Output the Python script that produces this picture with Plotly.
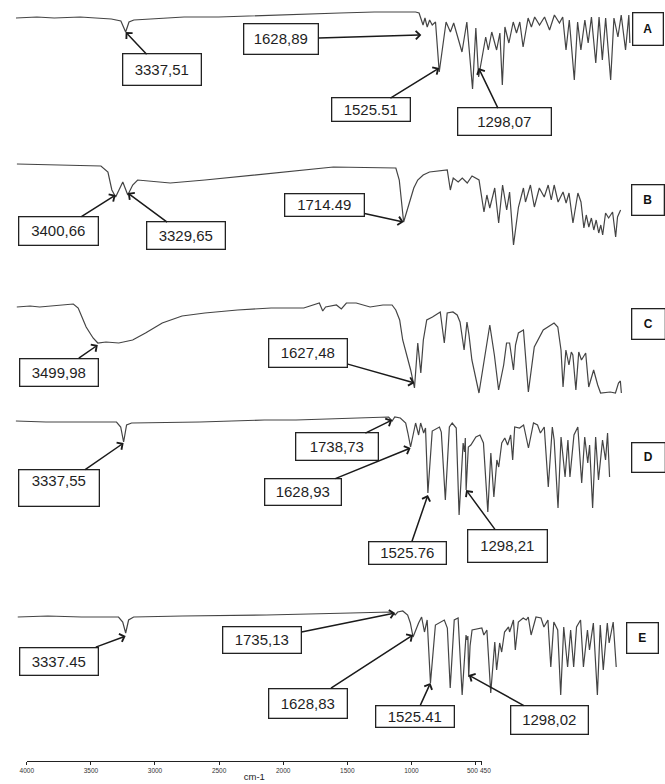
import plotly.graph_objects as go

# ---------------- data (wavenumber cm-1, transmittance %) ----------------
A_WN = [3971, 3850, 3750, 3600, 3420, 3365, 3337.5, 3318, 3290, 3000,
        2800, 2500, 2300, 2100, 1900, 1700, 1662, 1642, 1619, 1608,
        1595, 1581, 1566, 1547, 1525.5, 1486, 1461, 1442, 1394, 1366,
        1333, 1314, 1298, 1257, 1242, 1222, 1194, 1175, 1161, 1146,
        1123, 1098, 1079, 1060, 1041, 1012, 993, 974, 946, 917,
        888, 860, 831, 812, 793, 774, 745, 726, 707, 684,
        665, 646, 621, 602, 583, 564, 535, 516, 493, 474,
        449, 430, 424]
A_T = [87, 88, 87, 88, 86, 84, 73, 83, 85, 88,
       88, 90, 91, 92, 93, 93, 93, 92, 80, 87,
       78, 85, 80, 83, 33, 83, 73, 82, 53, 83,
       16, 77, 28, 68, 55, 73, 55, 72, 20, 78,
       62, 83, 72, 83, 58, 87, 78, 88, 80, 88,
       75, 90, 82, 88, 55, 85, 25, 83, 55, 85,
       62, 88, 42, 88, 45, 87, 25, 87, 68, 90,
       55, 90, 62]

B_WN = [3979, 3700, 3487, 3446, 3423, 3400.7, 3359, 3329.7, 3301, 3272,
        3081, 2878, 2589, 2126, 1760, 1740, 1714.5, 1690, 1679, 1655,
        1632, 1600, 1563, 1459, 1441, 1424, 1395, 1371, 1342, 1314,
        1273, 1244, 1227, 1210, 1181, 1158, 1135, 1111, 1094, 1071,
        1042, 1013, 1001, 972, 949, 920, 891, 868, 850, 833,
        810, 781, 763, 746, 723, 694, 676, 659, 645, 630,
        615, 601, 587, 572, 560, 549, 532, 514, 491, 473,
        462, 444]
B_T = [96, 95, 94, 88, 70, 63, 78, 65, 75, 80,
       77, 80, 85, 93, 92, 80, 38, 52, 60, 72,
       80, 85, 88, 90, 70, 82, 78, 82, 77, 84,
       80, 48, 65, 52, 72, 37, 75, 50, 68, 15,
       53, 72, 58, 75, 53, 72, 63, 75, 60, 75,
       58, 68, 57, 67, 37, 67, 58, 32, 45, 33,
       42, 30, 40, 27, 35, 25, 47, 42, 48, 23,
       43, 50]

C_WN = [3979, 3900, 3844, 3760, 3700, 3645, 3616, 3569, 3528, 3500,
        3452, 3376, 3294, 3218, 3119, 3002, 2867, 2674, 2475, 2282,
        2190, 2170, 2153, 2089, 2060, 2030, 1972, 1890, 1814, 1760,
        1738, 1715, 1697, 1650, 1627.5, 1608, 1590, 1575, 1555, 1521,
        1475, 1451, 1434, 1400, 1375, 1358, 1334, 1317, 1305, 1288,
        1246, 1210, 1182, 1155, 1130, 1100, 1083, 1065, 1042, 1030,
        1013, 983, 954, 919, 866, 802, 780, 761, 749, 732,
        714, 700, 691, 673, 656, 640, 615, 597, 568, 544,
        527, 470, 439, 421, 410, 404]
C_T = [88, 89, 88, 89, 90, 91, 87, 68, 57, 52,
       53, 52, 55, 62, 72, 79, 82, 85, 87, 87,
       92, 84, 88, 90, 86, 92, 92, 88, 90, 90,
       85, 75, 55, 25, 7, 52, 22, 55, 75, 78,
       83, 52, 82, 83, 80, 73, 45, 73, 60, 35,
       2, 40, 70, 40, 5, 30, 52, 52, 25, 50,
       62, 65, 3, 48, 65, 72, 68, 45, 8, 45,
       30, 43, 40, 5, 43, 35, 42, 8, 25, 10,
       2, 3, 2, 12, 14, 2]

D_WN = [3979, 3800, 3600, 3380, 3355, 3337.6, 3320, 3290, 2883, 2500,
        2311, 2000, 1835, 1760, 1738.7, 1723, 1690, 1658, 1645, 1628.9,
        1599, 1581, 1569, 1551, 1540, 1525.8, 1500, 1481, 1457, 1446,
        1422, 1398, 1381, 1357, 1340, 1316, 1308, 1303, 1298.2, 1285,
        1270, 1240, 1216, 1195, 1169, 1151, 1133, 1115, 1104, 1086,
        1068, 1051, 1033, 1021, 1009, 980, 956, 927, 897, 873,
        856, 833, 809, 785, 774, 751, 733, 709, 692, 680,
        656, 633, 610, 592, 574, 563, 545, 527, 510, 486,
        468, 456, 444]
D_T = [94, 93, 93, 93, 88, 73, 90, 92, 93, 95,
       95, 97, 98, 98, 94, 98, 97, 92, 82, 68,
       92, 80, 92, 82, 87, 22, 84, 86, 88, 83,
       15, 88, 92, 87, 0, 72, 63, 77, 25, 68,
       70, 78, 80, 72, 3, 62, 18, 55, 48, 72,
       77, 70, 80, 55, 88, 87, 90, 67, 92, 90,
       82, 88, 28, 88, 75, 7, 78, 38, 75, 38,
       80, 88, 32, 78, 52, 70, 7, 78, 35, 75,
       55, 82, 38]

E_WN = [3979, 3800, 3600, 3380, 3355, 3337.5, 3320, 3290, 3000, 2500,
        2000, 1850, 1760, 1735.1, 1720, 1690, 1661, 1645, 1628.8, 1596,
        1578, 1561, 1545, 1525.4, 1496, 1443, 1425, 1408, 1384, 1361,
        1337, 1314, 1308, 1303, 1298, 1290, 1278, 1220, 1208, 1190,
        1167, 1143, 1132, 1114, 1102, 1085, 1061, 1055, 1032, 1021,
        1003, 974, 956, 944, 927, 898, 868, 851, 827, 810,
        792, 769, 751, 733, 710, 692, 674, 657, 633, 616,
        592, 580, 557, 533, 516, 498, 474, 463, 439, 421]
E_T = [91, 92, 91, 91, 86, 75, 88, 91, 92, 93,
       95, 96, 96, 93, 96, 97, 93, 85, 71, 85,
       91, 76, 88, 25, 83, 88, 80, 20, 88, 90,
       13, 73, 68, 72, 31, 62, 78, 80, 73, 78,
       15, 66, 38, 65, 56, 76, 81, 76, 88, 58,
       86, 90, 88, 91, 73, 91, 90, 81, 88, 41,
       86, 78, 13, 81, 41, 78, 41, 81, 88, 41,
       78, 58, 85, 13, 83, 38, 85, 65, 86, 41]

PANEL_NAMES = ["A", "B", "C", "D", "E"]

A_PEAKS = [3337.51, 1628.89, 1525.51, 1298.07]
A_LABELS = ["3337,51", "1628,89", "1525.51", "1298,07"]
B_PEAKS = [3400.66, 3329.65, 1714.49]
B_LABELS = ["3400,66", "3329,65", "1714.49"]
C_PEAKS = [3499.98, 1627.48]
C_LABELS = ["3499,98", "1627,48"]
D_PEAKS = [1738.73, 1628.93, 3337.55, 1525.76, 1298.21]
D_LABELS = ["1738,73", "1628,93", "3337,55", "1525.76", "1298,21"]
E_PEAKS = [1735.13, 3337.45, 1628.83, 1525.41, 1298.02]
E_LABELS = ["1735,13", "3337.45", "1628,83", "1525.41", "1298,02"]

AXIS_TICKS = [4000, 3500, 3000, 2500, 2000, 1500, 1000, 500, 450]
AXIS_TICKTEXT = ["4000", "3500", "3000", "2500", "2000", "1500", "1000", "500", "450"]

# ---------------- layout configuration ----------------
W, H = 665, 784
PANEL_TOP = [5, 160, 295, 415, 608]
PANEL_XRANGE = [(4023, 221), (4037, 184), (4037, 146), (4032, 114), (4043, 131)]
PANEL_BOX = [(648, 29, 30, 32), (648, 200, 32, 30), (648, 324, 33, 30),
             (648, 457, 33, 29), (642, 638, 31, 30)]

# per label: tip %T, box-centre offset (px), box size (px), vertical align
LABEL_STYLE = [
    [(73, 36, 38, 78, 31, "middle"), (70, -140, 4, 74, 30, "middle"),
     (37, -68, 42, 78, 23, "middle"), (37, 26, 54, 93, 27, "middle")],
    [(65, -57, 36, 79, 28, "middle"), (67, 58, 43, 78, 27, "middle"),
     (38, -79, -17, 79, 22, "middle")],
    [(50, -39, 27, 78, 27, "middle"), (12, -106, -30, 78, 28, "middle")],
    [(95, -55, 27, 82, 27, "middle"), (67, -108, 44, 76, 26, "middle"),
     (72, -65, 45, 80, 36, "top"), (20, -20, 58, 77, 22, "middle"),
     (25, 41, 56, 79, 32, "middle")],
    [(95, -133, 27, 78, 26, "middle"), (72, -67, 25, 78, 27, "middle"),
     (73, -105, 68, 78, 29, "middle"), (25, -15, 33, 78, 21, "middle"),
     (33, 81, 45, 77, 28, "middle")],
]

spectra = [(A_WN, A_T), (B_WN, B_T), (C_WN, C_T), (D_WN, D_T), (E_WN, E_T)]
peaks = [(A_PEAKS, A_LABELS), (B_PEAKS, B_LABELS), (C_PEAKS, C_LABELS),
         (D_PEAKS, D_LABELS), (E_PEAKS, E_LABELS)]

FONT = "Liberation Sans, Arial, sans-serif"
TICK_FONT = dict(size=6.5, color="#333333", family=FONT)

fig = go.Figure()
layout = dict(
    width=W, height=H, autosize=False,
    margin=dict(l=0, r=0, t=0, b=0, pad=0),
    paper_bgcolor="white", plot_bgcolor="rgba(0,0,0,0)",
    showlegend=False,
    font=dict(family=FONT, color="#1a1a1a"),
)
annotations = []

YMIN, YMAX = -4, 101
for i, ((wn, t), top, xr) in enumerate(zip(spectra, PANEL_TOP, PANEL_XRANGE), start=1):
    key = "" if i == 1 else str(i)
    px_top = top + (100 - YMAX)
    px_bot = top + (100 - YMIN)
    layout[f"xaxis{key}"] = dict(domain=[0, 1], range=list(xr), visible=False,
                                 anchor=f"y{key}", fixedrange=True)
    layout[f"yaxis{key}"] = dict(domain=[1 - px_bot / H, 1 - px_top / H],
                                 range=[YMIN, YMAX], visible=False,
                                 anchor=f"x{key}", fixedrange=True)
    fig.add_trace(go.Scatter(x=wn, y=t, xaxis=f"x{key}", yaxis=f"y{key}",
                             mode="lines", hoverinfo="skip",
                             line=dict(color="#444444", width=1.2)))

    pk, lb = peaks[i - 1]
    for v, txt, st in zip(pk, lb, LABEL_STYLE[i - 1]):
        tip, dx, dy, bw, bh, va = st
        annotations.append(dict(
            x=v, y=tip, xref=f"x{key}", yref=f"y{key}",
            text=txt, showarrow=True, ax=dx, ay=dy,
            arrowhead=4, arrowsize=1.1, arrowwidth=1.5, arrowcolor="#1a1a1a",
            width=bw - 5, height=bh - 5, borderpad=2, valign=va, align="center",
            bordercolor="#222222", borderwidth=1.3, bgcolor="white",
            font=dict(size=15, color="#1f1f1f", family=FONT),
        ))

    cx, cy, bw, bh = PANEL_BOX[i - 1]
    annotations.append(dict(
        x=cx / W, y=1 - cy / H, xref="paper", yref="paper",
        xanchor="center", yanchor="middle", showarrow=False,
        text=f"<b>{PANEL_NAMES[i - 1]}</b>",
        width=bw - 5, height=bh - 5, borderpad=2,
        bordercolor="#222222", borderwidth=1.3, bgcolor="white",
        font=dict(size=12, color="#111111", family=FONT),
    ))

# bottom wavenumber axis: the two closely spaced last labels ("500" and "450")
# are written just left / right of the point between their ticks, touching
ticktext_axis = AXIS_TICKTEXT[:-2] + ["", ""]
layout["xaxis6"] = dict(
    domain=[20 / W, 480 / W], range=[4000, 450], anchor="y6",
    tickmode="array", tickvals=AXIS_TICKS, ticktext=ticktext_axis,
    tickangle=0,
    showline=True, linecolor="#222222", linewidth=1,
    ticks="outside", ticklen=3, tickcolor="#222222", tickwidth=1,
    tickfont=TICK_FONT,
    showgrid=False, zeroline=False, fixedrange=True,
    title=dict(text="cm-1", standoff=0,
               font=dict(size=9.5, color="#222222", family=FONT)),
)
layout["yaxis6"] = dict(domain=[1 - 761 / H, 1 - 752 / H], range=[0, 1],
                        visible=False, anchor="x6", fixedrange=True)
split_wn = (AXIS_TICKS[-2] + AXIS_TICKS[-1]) / 2
for txt, anchor in zip(AXIS_TICKTEXT[-2:], ["right", "left"]):
    annotations.append(dict(
        x=split_wn, xref="x6", y=1 - 770 / H, yref="paper",
        text=txt, showarrow=False, xanchor=anchor, yanchor="middle",
        borderpad=0, font=TICK_FONT,
    ))
fig.add_trace(go.Scatter(x=[AXIS_TICKS[0], AXIS_TICKS[-1]], y=[0.5, 0.5],
                         xaxis="x6", yaxis="y6", mode="markers",
                         marker=dict(opacity=0), hoverinfo="skip"))

layout["annotations"] = annotations
fig.update_layout(**layout)
fig.write_html(
    "out.html",
    config={"displayModeBar": False},
    post_script="document.body.style.margin='0';document.body.style.overflow='hidden';",
)
